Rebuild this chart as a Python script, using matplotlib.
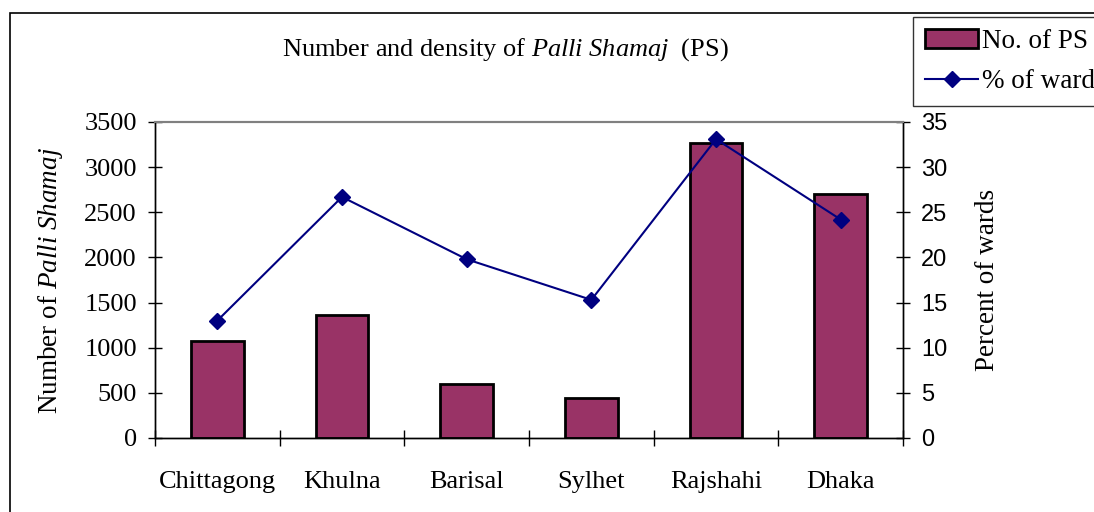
import matplotlib
matplotlib.use("Agg")
import matplotlib.pyplot as plt
from matplotlib.patches import Rectangle
import numpy as np

# Data
divisions = ['Chittagong', 'Khulna', 'Barisal', 'Sylhet', 'Rajshahi', 'Dhaka']
no_of_ps = [1075, 1365, 600, 445, 3270, 2705]
pct_of_ward = [13.0, 26.7, 19.8, 15.3, 33.1, 24.2]

plt.rcParams['font.family'] = 'Liberation Serif'
plt.rcParams['mathtext.fontset'] = 'custom'
plt.rcParams['mathtext.rm'] = 'Liberation Serif'
plt.rcParams['mathtext.it'] = 'Liberation Serif:italic'

fig = plt.figure(figsize=(10.94, 5.12), dpi=100)
ax = fig.add_axes([155 / 1094, 1 - 438 / 512, (903 - 155) / 1094, (438 - 122) / 512])
ax2 = ax.twinx()

x = np.arange(len(divisions))
bars = ax.bar(x, no_of_ps, width=0.42, color='#993366', edgecolor='black', linewidth=2,
              label='No. of PS', zorder=2)
line, = ax2.plot(x, pct_of_ward, color='#000080', marker='D', markersize=8, linewidth=1.5,
                 label='% of ward', zorder=3)

ax.set_xlim(-0.5, len(divisions) - 0.5)
ax.set_ylim(0, 3500)
ax2.set_ylim(0, 35)
ax.set_yticks(range(0, 3501, 500))
ax2.set_yticks(range(0, 36, 5))

# category axis: ticks between categories, labels centered
ax.set_xticks(np.arange(-0.5, len(divisions), 1.0))
ax.set_xticklabels([])
ax.set_xticks(x, minor=True)
ax.set_xticklabels(divisions, minor=True, fontsize=19)
ax.tick_params(axis='x', which='minor', length=0, pad=24)
ax.tick_params(axis='x', which='major', direction='inout', length=12, width=1)
ax.tick_params(axis='y', direction='inout', length=10, width=1, labelsize=19, pad=8)
ax2.tick_params(axis='y', direction='inout', length=10, width=1, pad=8)
for lab in ax2.get_yticklabels():
    lab.set_fontfamily('Liberation Sans')
    lab.set_fontsize(17)

for a in (ax, ax2):
    a.spines['top'].set_color('#808080')
    a.spines['top'].set_linewidth(1.5)
    a.spines['left'].set_linewidth(1)
    a.spines['right'].set_linewidth(1)
    a.spines['bottom'].set_linewidth(1)

ax.set_ylabel('Number of $\\it{Palli\\ Shamaj}$', fontsize=19.5, labelpad=14)
ax2.set_ylabel('Percent of wards', fontsize=19.5, labelpad=20)

fig.text(505 / 1094, 1 - 50 / 512, 'Number and density of $\\it{Palli\\ Shamaj}$  (PS)',
         ha='center', va='center', fontsize=19)

# chart area border (extends past the right and bottom edges)
fig.patches.append(Rectangle((10 / 1094, -0.1), 1.2, 1 - 13 / 512 + 0.1,
                             transform=fig.transFigure, fill=False,
                             edgecolor='black', linewidth=1.2))

leg = fig.legend(handles=[bars, line], loc='upper left',
                 bbox_to_anchor=(913 / 1094, 1 - 17 / 512), fontsize=19.5,
                 frameon=True, fancybox=False, edgecolor='black',
                 handlelength=1.95, borderaxespad=0, labelspacing=0.55,
                 borderpad=0.45, handletextpad=0.15)
leg.get_frame().set_linewidth(1)

fig.savefig('out.png', dpi=100)
